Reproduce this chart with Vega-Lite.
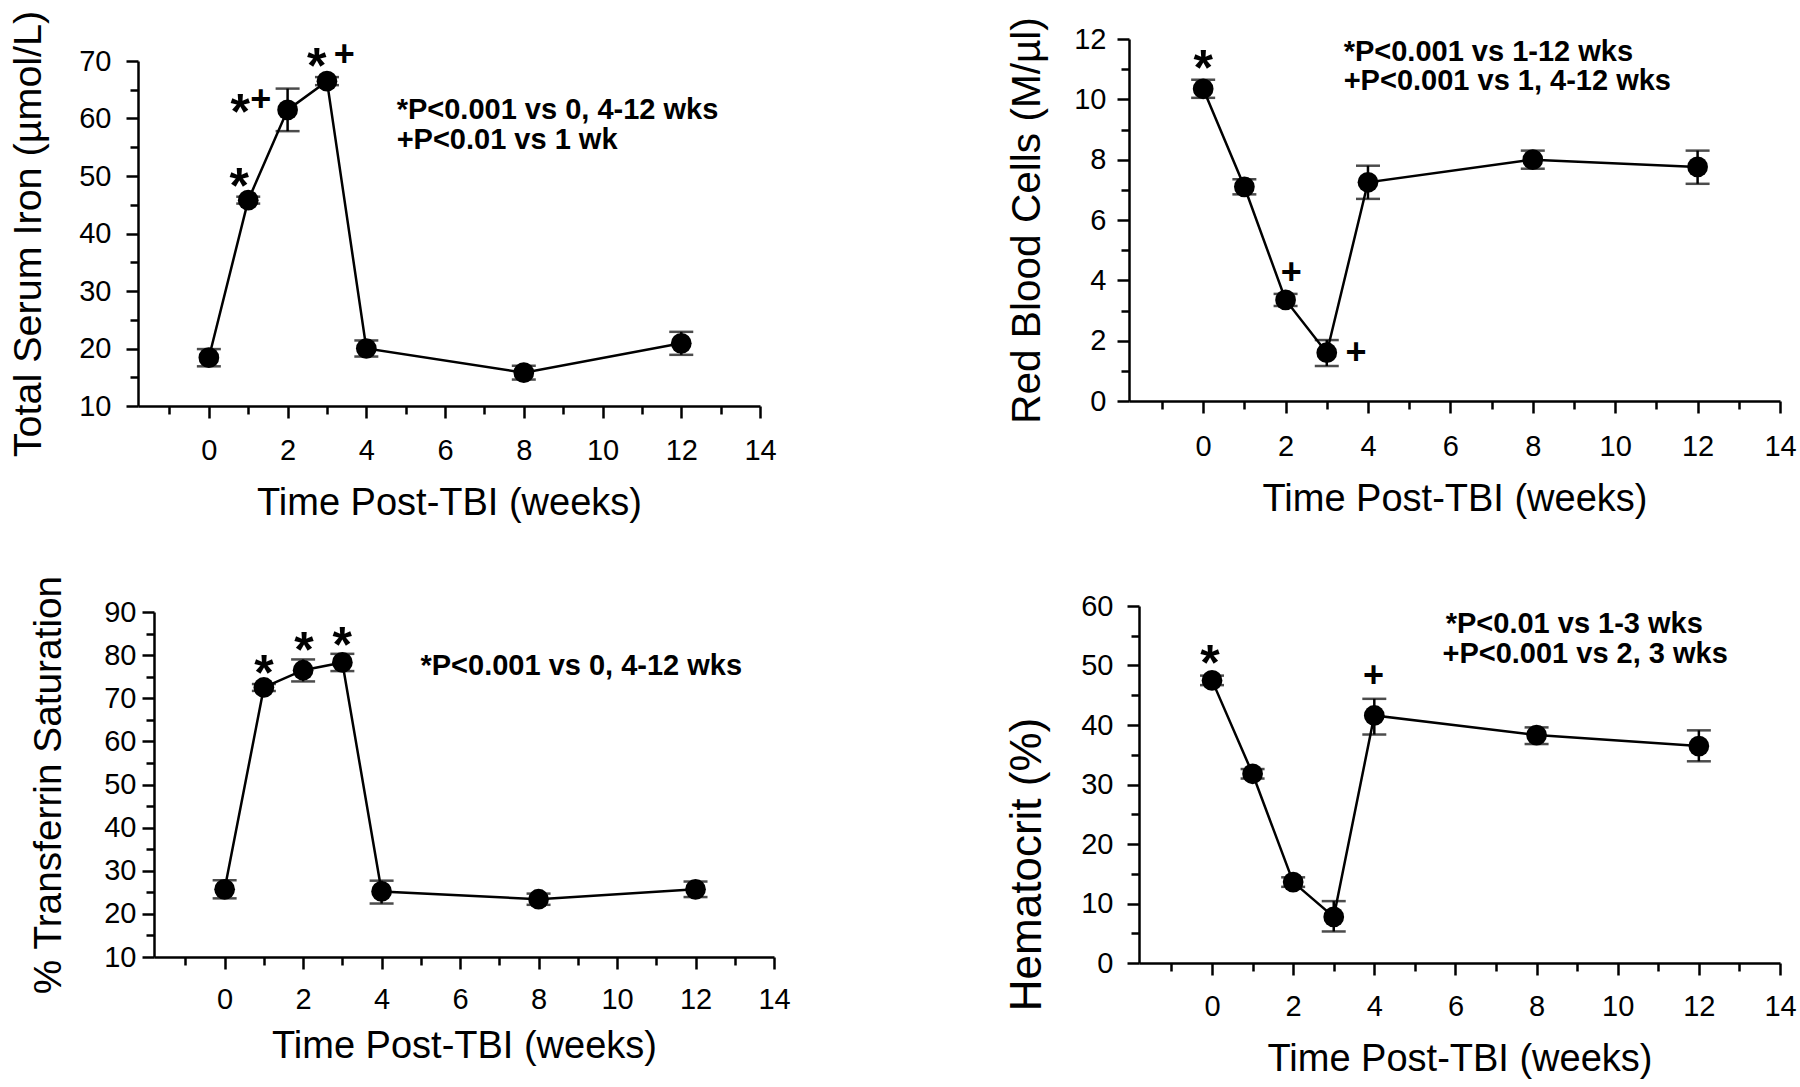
{
  "$schema": "https://vega.github.io/schema/vega-lite/v6.json",
  "background": "white",
  "padding": {"left": 8, "top": 10, "right": 4, "bottom": 4},
  "config": {
    "font": "Liberation Sans",
    "view": {"stroke": null},
    "axis": {
      "labelFont": "Liberation Sans", "titleFont": "Liberation Sans",
      "labelFontSize": 29, "titleFontSize": 38, "titleFontWeight": "normal",
      "labelColor": "#000", "titleColor": "#000",
      "domainColor": "#000", "domainWidth": 2.5, "tickColor": "#000", "tickWidth": 2.5,
      "grid": false, "labelFlush": false, "labelOverlap": false
    }
  },
  "datasets": {
    "iron": [
      {"week": 0, "mean": 18.4, "lo": 16.9, "hi": 19.9},
      {"week": 1, "mean": 45.8, "lo": 45.2, "hi": 46.4},
      {"week": 2, "mean": 61.5, "lo": 57.8, "hi": 65.2},
      {"week": 3, "mean": 66.5, "lo": 65.8, "hi": 67.2},
      {"week": 4, "mean": 20.0, "lo": 18.6, "hi": 21.4},
      {"week": 8, "mean": 15.8, "lo": 14.6, "hi": 17.0},
      {"week": 12, "mean": 20.9, "lo": 18.9, "hi": 22.9}
    ],
    "iron_ann": [
      {"week": 0.77, "val": 50.4, "label": "*"},
      {"week": 0.8, "val": 63.3, "label": "*"},
      {"week": 1.32, "val": 63.3, "label": "+"},
      {"week": 2.74, "val": 71.3, "label": "*"},
      {"week": 3.44, "val": 71.1, "label": "+"}
    ],
    "iron_legend": [
      {"week": 4.77, "val": 61.5, "text": "*P<0.001 vs 0, 4-12 wks"},
      {"week": 4.77, "val": 56.2, "text": "+P<0.01 vs 1 wk"}
    ],
    "rbc": [
      {"week": 0, "mean": 10.35, "lo": 10.05, "hi": 10.65},
      {"week": 1, "mean": 7.1, "lo": 6.85, "hi": 7.35},
      {"week": 2, "mean": 3.35, "lo": 3.15, "hi": 3.55},
      {"week": 3, "mean": 1.6, "lo": 1.16, "hi": 2.02},
      {"week": 4, "mean": 7.25, "lo": 6.7, "hi": 7.8},
      {"week": 8, "mean": 8.0, "lo": 7.7, "hi": 8.3},
      {"week": 12, "mean": 7.76, "lo": 7.2, "hi": 8.3}
    ],
    "rbc_ann": [
      {"week": 0, "val": 11.45, "label": "*"},
      {"week": 2.14, "val": 4.24, "label": "+"},
      {"week": 3.71, "val": 1.6, "label": "+"}
    ],
    "rbc_legend": [
      {"week": 3.41, "val": 11.57, "text": "*P<0.001 vs 1-12 wks"},
      {"week": 3.41, "val": 10.62, "text": "+P<0.001 vs 1, 4-12 wks"}
    ],
    "tsat": [
      {"week": 0, "mean": 25.7, "lo": 23.6, "hi": 27.8},
      {"week": 1, "mean": 72.5, "lo": 71.7, "hi": 73.3},
      {"week": 2, "mean": 76.5, "lo": 73.9, "hi": 79.0},
      {"week": 3, "mean": 78.3, "lo": 76.3, "hi": 80.3},
      {"week": 4, "mean": 25.2, "lo": 22.4, "hi": 27.7},
      {"week": 8, "mean": 23.4, "lo": 22.1, "hi": 24.7},
      {"week": 12, "mean": 25.7, "lo": 23.9, "hi": 27.5}
    ],
    "tsat_ann": [
      {"week": 1.0, "val": 78.7, "label": "*"},
      {"week": 2.02, "val": 83.9, "label": "*"},
      {"week": 3.0, "val": 85.1, "label": "*"}
    ],
    "tsat_legend": [
      {"week": 4.99, "val": 77.5, "text": "*P<0.001 vs 0, 4-12 wks"}
    ],
    "hct": [
      {"week": 0, "mean": 47.5, "lo": 46.7, "hi": 48.3},
      {"week": 1, "mean": 31.8, "lo": 31.0, "hi": 32.6},
      {"week": 2, "mean": 13.6, "lo": 12.8, "hi": 14.4},
      {"week": 3, "mean": 7.75, "lo": 5.3, "hi": 10.4},
      {"week": 4, "mean": 41.6, "lo": 38.4, "hi": 44.4},
      {"week": 8, "mean": 38.3, "lo": 36.8, "hi": 39.6},
      {"week": 12, "mean": 36.45, "lo": 33.9, "hi": 39.1}
    ],
    "hct_ann": [
      {"week": -0.05, "val": 52.5, "label": "*"},
      {"week": 3.98, "val": 48.25, "label": "+"}
    ],
    "hct_legend": [
      {"week": 5.76, "val": 56.9, "text": "*P<0.01 vs 1-3 wks"},
      {"week": 5.68, "val": 52.0, "text": "+P<0.001 vs 2, 3 wks"}
    ]
  },
  "columns": 2,
  "spacing": 214,
  "concat": [
    {
      "columns": 1,
      "spacing": 52,
      "concat": [
        {
          "width": 622, "height": 367,
          "resolve": {"axis": {"x": "independent", "y": "independent"}},
          "layer": [
            {
              "data": {"name": "iron"},
              "mark": {"type": "rule", "color": "black", "strokeWidth": 2.5},
              "encoding": {
                "x": {"field": "week", "type": "quantitative", "scale": {"domain": [-1.8, 14], "nice": false, "zero": false},
                      "axis": {"orient": "bottom", "values": [0, 2, 4, 6, 8, 10, 12, 14], "tickSize": 12, "labelPadding": 18, "title": "Time Post-TBI (weeks)", "titlePadding": 19}},
                "y": {"field": "lo", "type": "quantitative", "scale": {"domain": [10, 70], "nice": false, "zero": false, "range": [367, 22]},
                      "axis": {"orient": "left", "values": [10, 20, 30, 40, 50, 60, 70], "tickSize": 12, "labelPadding": 15, "title": "Total Serum Iron (µmol/L)", "titleFontSize": 39.5, "titlePadding": 30}},
                "y2": {"field": "hi"}
              }
            },
            {
              "data": {"name": "iron"},
              "mark": {"type": "line", "color": "black", "strokeWidth": 2.5},
              "encoding": {
                "x": {"field": "week", "type": "quantitative", "axis": {"orient": "bottom", "values": [-1, 1, 3, 5, 7, 9, 11, 13], "tickSize": 8, "labels": false, "domain": false, "title": null}},
                "y": {"field": "mean", "type": "quantitative", "axis": {"orient": "left", "values": [15, 25, 35, 45, 55, 65], "tickSize": 8, "labels": false, "domain": false, "title": null}}
              }
            },
            {
              "data": {"name": "iron"},
              "mark": {"type": "tick", "orient": "horizontal", "size": 24, "thickness": 2.5, "color": "black"},
              "encoding": {"x": {"field": "week", "type": "quantitative", "axis": null}, "y": {"field": "lo", "type": "quantitative", "axis": null}}
            },
            {
              "data": {"name": "iron"},
              "mark": {"type": "tick", "orient": "horizontal", "size": 24, "thickness": 2.5, "color": "black"},
              "encoding": {"x": {"field": "week", "type": "quantitative", "axis": null}, "y": {"field": "hi", "type": "quantitative", "axis": null}}
            },
            {
              "data": {"name": "iron"},
              "mark": {"type": "point", "shape": "circle", "filled": true, "opacity": 1, "size": 430, "color": "black"},
              "encoding": {"x": {"field": "week", "type": "quantitative", "axis": null}, "y": {"field": "mean", "type": "quantitative", "axis": null}}
            },
            {
              "data": {"name": "iron_ann"},
              "transform": [{"filter": "datum.label === '*'"}],
              "mark": {"type": "text", "fontSize": 50, "fontWeight": "bold", "dy": 14, "align": "center", "baseline": "middle", "color": "black"},
              "encoding": {"x": {"field": "week", "type": "quantitative", "axis": null}, "y": {"field": "val", "type": "quantitative", "axis": null}, "text": {"field": "label"}}
            },
            {
              "data": {"name": "iron_ann"},
              "transform": [{"filter": "datum.label === '+'"}],
              "mark": {"type": "text", "fontSize": 36, "fontWeight": "bold", "align": "center", "baseline": "middle", "color": "black"},
              "encoding": {"x": {"field": "week", "type": "quantitative", "axis": null}, "y": {"field": "val", "type": "quantitative", "axis": null}, "text": {"field": "label"}}
            },
            {
              "data": {"name": "iron_legend"},
              "mark": {"type": "text", "fontSize": 29, "fontWeight": "bold", "align": "left", "baseline": "middle", "color": "black"},
              "encoding": {"x": {"field": "week", "type": "quantitative", "axis": null}, "y": {"field": "val", "type": "quantitative", "axis": null}, "text": {"field": "text"}}
            }
          ]
        },
        {
          "width": 636, "height": 345,
          "resolve": {"axis": {"x": "independent", "y": "independent"}},
          "layer": [
            {
              "data": {"name": "tsat"},
              "mark": {"type": "rule", "color": "black", "strokeWidth": 2.5},
              "encoding": {
                "x": {"field": "week", "type": "quantitative", "scale": {"domain": [-1.8, 14], "nice": false, "zero": false, "range": [16, 636]},
                      "axis": {"orient": "bottom", "values": [0, 2, 4, 6, 8, 10, 12, 14], "tickSize": 12, "labelPadding": 16, "title": "Time Post-TBI (weeks)", "titlePadding": 13}},
                "y": {"field": "lo", "type": "quantitative", "scale": {"domain": [10, 90], "nice": false, "zero": false},
                      "axis": {"orient": "left", "offset": -16, "values": [10, 20, 30, 40, 50, 60, 70, 80, 90], "tickSize": 12, "labelPadding": 6, "title": "% Transferrin Saturation", "titleFontSize": 38.8, "titlePadding": 35}},
                "y2": {"field": "hi"}
              }
            },
            {
              "data": {"name": "tsat"},
              "mark": {"type": "line", "color": "black", "strokeWidth": 2.5},
              "encoding": {
                "x": {"field": "week", "type": "quantitative", "axis": {"orient": "bottom", "values": [-1, 1, 3, 5, 7, 9, 11, 13], "tickSize": 8, "labels": false, "domain": false, "title": null}},
                "y": {"field": "mean", "type": "quantitative", "axis": {"orient": "left", "offset": -16, "values": [15, 25, 35, 45, 55, 65, 75, 85], "tickSize": 8, "labels": false, "domain": false, "title": null}}
              }
            },
            {
              "data": {"name": "tsat"},
              "mark": {"type": "tick", "orient": "horizontal", "size": 24, "thickness": 2.5, "color": "black"},
              "encoding": {"x": {"field": "week", "type": "quantitative", "axis": null}, "y": {"field": "lo", "type": "quantitative", "axis": null}}
            },
            {
              "data": {"name": "tsat"},
              "mark": {"type": "tick", "orient": "horizontal", "size": 24, "thickness": 2.5, "color": "black"},
              "encoding": {"x": {"field": "week", "type": "quantitative", "axis": null}, "y": {"field": "hi", "type": "quantitative", "axis": null}}
            },
            {
              "data": {"name": "tsat"},
              "mark": {"type": "point", "shape": "circle", "filled": true, "opacity": 1, "size": 430, "color": "black"},
              "encoding": {"x": {"field": "week", "type": "quantitative", "axis": null}, "y": {"field": "mean", "type": "quantitative", "axis": null}}
            },
            {
              "data": {"name": "tsat_ann"},
              "mark": {"type": "text", "fontSize": 50, "fontWeight": "bold", "dy": 14, "align": "center", "baseline": "middle", "color": "black"},
              "encoding": {"x": {"field": "week", "type": "quantitative", "axis": null}, "y": {"field": "val", "type": "quantitative", "axis": null}, "text": {"field": "label"}}
            },
            {
              "data": {"name": "tsat_legend"},
              "mark": {"type": "text", "fontSize": 29, "fontWeight": "bold", "align": "left", "baseline": "middle", "color": "black"},
              "encoding": {"x": {"field": "week", "type": "quantitative", "axis": null}, "y": {"field": "val", "type": "quantitative", "axis": null}, "text": {"field": "text"}}
            }
          ]
        }
      ]
    },
    {
      "columns": 1,
      "spacing": 74,
      "concat": [
        {
          "width": 651, "height": 362,
          "resolve": {"axis": {"x": "independent", "y": "independent"}},
          "layer": [
            {
              "data": {"name": "rbc"},
              "mark": {"type": "rule", "color": "black", "strokeWidth": 2.5},
              "encoding": {
                "x": {"field": "week", "type": "quantitative", "scale": {"domain": [-1.8, 14], "nice": false, "zero": false},
                      "axis": {"orient": "bottom", "values": [0, 2, 4, 6, 8, 10, 12, 14], "tickSize": 12, "labelPadding": 19, "title": "Time Post-TBI (weeks)", "titlePadding": 19}},
                "y": {"field": "lo", "type": "quantitative", "scale": {"domain": [0, 12], "nice": false, "zero": false},
                      "axis": {"orient": "left", "values": [0, 2, 4, 6, 8, 10, 12], "tickSize": 12, "labelPadding": 11, "title": "Red Blood Cells (M/µl)", "titleFontSize": 40.6, "titlePadding": 25}},
                "y2": {"field": "hi"}
              }
            },
            {
              "data": {"name": "rbc"},
              "mark": {"type": "line", "color": "black", "strokeWidth": 2.5},
              "encoding": {
                "x": {"field": "week", "type": "quantitative", "axis": {"orient": "bottom", "values": [-1, 1, 3, 5, 7, 9, 11, 13], "tickSize": 8, "labels": false, "domain": false, "title": null}},
                "y": {"field": "mean", "type": "quantitative", "axis": {"orient": "left", "values": [1, 3, 5, 7, 9, 11], "tickSize": 8, "labels": false, "domain": false, "title": null}}
              }
            },
            {
              "data": {"name": "rbc"},
              "mark": {"type": "tick", "orient": "horizontal", "size": 24, "thickness": 2.5, "color": "black"},
              "encoding": {"x": {"field": "week", "type": "quantitative", "axis": null}, "y": {"field": "lo", "type": "quantitative", "axis": null}}
            },
            {
              "data": {"name": "rbc"},
              "mark": {"type": "tick", "orient": "horizontal", "size": 24, "thickness": 2.5, "color": "black"},
              "encoding": {"x": {"field": "week", "type": "quantitative", "axis": null}, "y": {"field": "hi", "type": "quantitative", "axis": null}}
            },
            {
              "data": {"name": "rbc"},
              "mark": {"type": "point", "shape": "circle", "filled": true, "opacity": 1, "size": 430, "color": "black"},
              "encoding": {"x": {"field": "week", "type": "quantitative", "axis": null}, "y": {"field": "mean", "type": "quantitative", "axis": null}}
            },
            {
              "data": {"name": "rbc_ann"},
              "transform": [{"filter": "datum.label === '*'"}],
              "mark": {"type": "text", "fontSize": 50, "fontWeight": "bold", "dy": 14, "align": "center", "baseline": "middle", "color": "black"},
              "encoding": {"x": {"field": "week", "type": "quantitative", "axis": null}, "y": {"field": "val", "type": "quantitative", "axis": null}, "text": {"field": "label"}}
            },
            {
              "data": {"name": "rbc_ann"},
              "transform": [{"filter": "datum.label === '+'"}],
              "mark": {"type": "text", "fontSize": 36, "fontWeight": "bold", "align": "center", "baseline": "middle", "color": "black"},
              "encoding": {"x": {"field": "week", "type": "quantitative", "axis": null}, "y": {"field": "val", "type": "quantitative", "axis": null}, "text": {"field": "label"}}
            },
            {
              "data": {"name": "rbc_legend"},
              "mark": {"type": "text", "fontSize": 29, "fontWeight": "bold", "align": "left", "baseline": "middle", "color": "black"},
              "encoding": {"x": {"field": "week", "type": "quantitative", "axis": null}, "y": {"field": "val", "type": "quantitative", "axis": null}, "text": {"field": "text"}}
            }
          ]
        },
        {
          "width": 651, "height": 357,
          "resolve": {"axis": {"x": "independent", "y": "independent"}},
          "layer": [
            {
              "data": {"name": "hct"},
              "mark": {"type": "rule", "color": "black", "strokeWidth": 2.5},
              "encoding": {
                "x": {"field": "week", "type": "quantitative", "scale": {"domain": [-1.8, 14], "nice": false, "zero": false, "range": [10, 651]},
                      "axis": {"orient": "bottom", "values": [0, 2, 4, 6, 8, 10, 12, 14], "tickSize": 12, "labelPadding": 17, "title": "Time Post-TBI (weeks)", "titlePadding": 19}},
                "y": {"field": "lo", "type": "quantitative", "scale": {"domain": [0, 60], "nice": false, "zero": false},
                      "axis": {"orient": "left", "offset": -10, "values": [0, 10, 20, 30, 40, 50, 60], "tickSize": 12, "labelPadding": 14, "title": "Hematocrit (%)", "titleFontSize": 44, "titlePadding": 31, "titleY": 258}},
                "y2": {"field": "hi"}
              }
            },
            {
              "data": {"name": "hct"},
              "mark": {"type": "line", "color": "black", "strokeWidth": 2.5},
              "encoding": {
                "x": {"field": "week", "type": "quantitative", "axis": {"orient": "bottom", "values": [-1, 1, 3, 5, 7, 9, 11, 13], "tickSize": 8, "labels": false, "domain": false, "title": null}},
                "y": {"field": "mean", "type": "quantitative", "axis": {"orient": "left", "offset": -10, "values": [5, 15, 25, 35, 45, 55], "tickSize": 8, "labels": false, "domain": false, "title": null}}
              }
            },
            {
              "data": {"name": "hct"},
              "mark": {"type": "tick", "orient": "horizontal", "size": 24, "thickness": 2.5, "color": "black"},
              "encoding": {"x": {"field": "week", "type": "quantitative", "axis": null}, "y": {"field": "lo", "type": "quantitative", "axis": null}}
            },
            {
              "data": {"name": "hct"},
              "mark": {"type": "tick", "orient": "horizontal", "size": 24, "thickness": 2.5, "color": "black"},
              "encoding": {"x": {"field": "week", "type": "quantitative", "axis": null}, "y": {"field": "hi", "type": "quantitative", "axis": null}}
            },
            {
              "data": {"name": "hct"},
              "mark": {"type": "point", "shape": "circle", "filled": true, "opacity": 1, "size": 430, "color": "black"},
              "encoding": {"x": {"field": "week", "type": "quantitative", "axis": null}, "y": {"field": "mean", "type": "quantitative", "axis": null}}
            },
            {
              "data": {"name": "hct_ann"},
              "transform": [{"filter": "datum.label === '*'"}],
              "mark": {"type": "text", "fontSize": 50, "fontWeight": "bold", "dy": 14, "align": "center", "baseline": "middle", "color": "black"},
              "encoding": {"x": {"field": "week", "type": "quantitative", "axis": null}, "y": {"field": "val", "type": "quantitative", "axis": null}, "text": {"field": "label"}}
            },
            {
              "data": {"name": "hct_ann"},
              "transform": [{"filter": "datum.label === '+'"}],
              "mark": {"type": "text", "fontSize": 36, "fontWeight": "bold", "align": "center", "baseline": "middle", "color": "black"},
              "encoding": {"x": {"field": "week", "type": "quantitative", "axis": null}, "y": {"field": "val", "type": "quantitative", "axis": null}, "text": {"field": "label"}}
            },
            {
              "data": {"name": "hct_legend"},
              "mark": {"type": "text", "fontSize": 29, "fontWeight": "bold", "align": "left", "baseline": "middle", "color": "black"},
              "encoding": {"x": {"field": "week", "type": "quantitative", "axis": null}, "y": {"field": "val", "type": "quantitative", "axis": null}, "text": {"field": "text"}}
            }
          ]
        }
      ]
    }
  ]
}
